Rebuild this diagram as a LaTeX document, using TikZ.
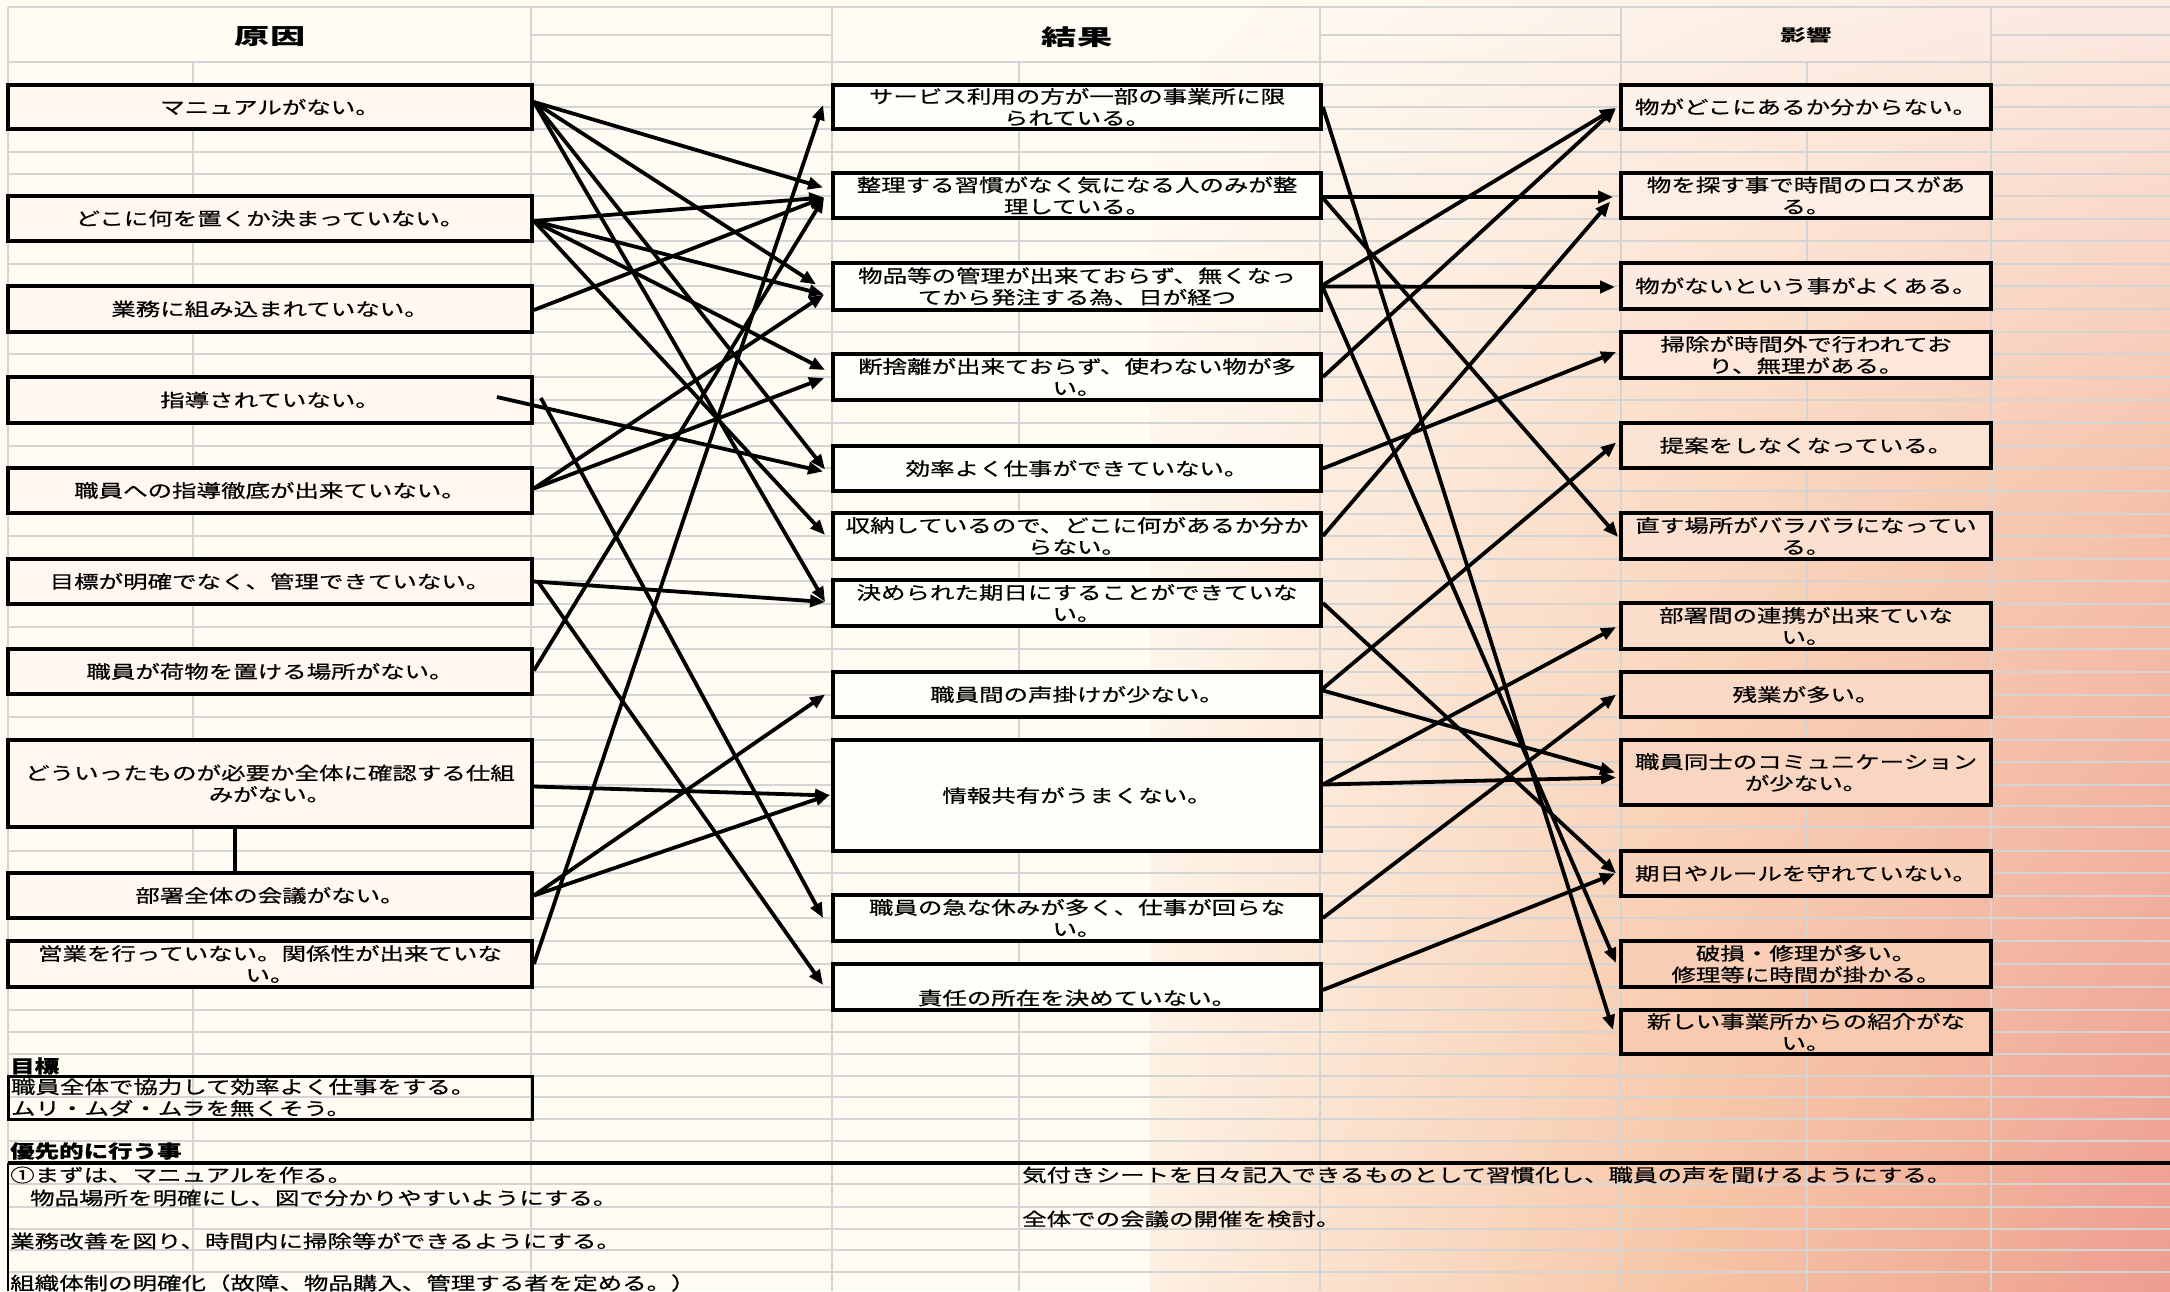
\documentclass[tikz,border=0pt]{standalone}
\usepackage{fontspec}
\newfontfamily\jp{Noto Sans CJK JP}[FakeStretch=1.36,FakeBold=0.6]
\newfontfamily\jph{Noto Sans CJK JP}[FakeStretch=1.6]
\newfontfamily\jpk{Noto Sans CJK JP}[FakeStretch=1.55]
\usetikzlibrary{arrows.meta,calc,shadings}
\definecolor{bgcream}{HTML}{FFFCF4}
\definecolor{bgmidl}{HTML}{FEF6EC}
\definecolor{bgcreamb}{HTML}{FDF0E2}
\definecolor{pka}{HTML}{FDF1E8}
\definecolor{pkm}{HTML}{FAD9C2}
\definecolor{pkb}{HTML}{F6C3A3}
\definecolor{pkc}{HTML}{FCE9E1}
\definecolor{pkn}{HTML}{F5C0A8}
\definecolor{pkd}{HTML}{EE9D8F}
\definecolor{gridgray}{HTML}{D4D4D4}
\definecolor{lfill}{HTML}{FFF7F0}
\definecolor{mfill}{HTML}{FFFEF9}
\definecolor{rtop}{HTML}{FDF2EA}
\definecolor{rbot}{HTML}{F8CBB1}
\begin{document}
\begin{tikzpicture}[x=1pt,y=-1pt,
  grid/.style={draw=gridgray, line width=2pt},
  box/.style={draw=black, line width=3.8pt, inner sep=0pt, align=center,
    font=\jp\fontsize{18}{21.5}\selectfont},
  lbox/.style={box, fill=lfill, minimum width=524pt},
  mbox/.style={box, fill=mfill, minimum width=488pt},
  rbox/.style={box, fill=rbot!#1!rtop, minimum width=370pt},
  link/.style={line width=3.8pt, -{Triangle[length=15pt,width=12pt]}},
  txt/.style={anchor=west, inner sep=0pt, font=\jp\fontsize{18}{21.5}\selectfont},
  btxt/.style={anchor=west, inner sep=0pt, font=\jp\bfseries\fontsize{18}{21.5}\selectfont}]
\useasboundingbox (0,0) rectangle (2170,1291);
% background
\fill[bgcream] (0,0) rectangle (2170,1291);
\shade[upper left=bgcream, upper right=pka, lower left=bgmidl, lower right=pkm] (1150,0) rectangle (1700,500);
\shade[upper left=bgmidl, upper right=pkm, lower left=bgcreamb, lower right=pkb] (1150,500) rectangle (1700,1291);
\shade[upper left=pka, upper right=pkc, lower left=pkm, lower right=pkn] (1700,0) rectangle (2170,500);
\shade[upper left=pkm, upper right=pkn, lower left=pkb, lower right=pkd] (1700,500) rectangle (2170,1291);
% grid
\draw[grid] (8,7) -- (2170,7);
\foreach \a/\b in {531/832,1320/1621,1991/2170} \draw[grid] (\a,35) -- (\b,35);
\foreach \yy in {62,85,107,129,152,174,196,219,241,264,286,309,332,354,377,400,423,446,468,491,514,536,559,581,604,627,649,672,695,717,740,762,785,806,827,851,873,896,918,941,964,987,1010,1032,1054,1076,1097,1119,1141,1163,1184,1207,1229,1250,1272}
  \draw[grid] (8,\yy) -- (2170,\yy);
\foreach \xx in {8,531,832,1320,1621,1991} \draw[grid] (\xx,7) -- (\xx,1291);
\foreach \xx in {193,1019,1807} \draw[grid] (\xx,62) -- (\xx,1291);
% headers
\node[font=\jph\bfseries\fontsize{22}{24}\selectfont] (h1) at (270,37) {原因};
\node[font=\jph\bfseries\fontsize{22}{24}\selectfont] (h2) at (1077,37) {結果};
\node[font=\jpk\bfseries\fontsize{16.5}{20}\selectfont] (h3) at (1806,35) {影響};
% left boxes
\node[lbox, minimum height=44pt] (s1) at (270,107) {マニュアルがない。};
\node[lbox, minimum height=45pt] (s2) at (270,218.5) {どこに何を置くか決まっていない。};
\node[lbox, minimum height=46pt] (s3) at (270,309) {業務に組み込まれていない。};
\node[lbox, minimum height=46pt] (s4) at (270,400) {指導されていない。};
\node[lbox, minimum height=45pt] (s5) at (270,490.5) {職員への指導徹底が出来ていない。};
\node[lbox, minimum height=45pt] (s6) at (270,581.5) {目標が明確でなく、管理できていない。};
\node[lbox, minimum height=45pt] (s7) at (270,671.5) {職員が荷物を置ける場所がない。};
\node[lbox, minimum height=87pt] (s8) at (270,783.5) {どういったものが必要か全体に確認する仕組\\みがない。};
\node[lbox, minimum height=45pt] (s9) at (270,895.5) {部署全体の会議がない。};
\node[lbox, minimum height=46pt] (s10) at (270,964) {営業を行っていない。関係性が出来ていな\\い。};
% middle boxes
\node[mbox, minimum height=44pt] (m1) at (1077,107) {サービス利用の方が一部の事業所に限\\られている。};
\node[mbox, minimum height=45pt] (m2) at (1077,195.5) {整理する習慣がなく気になる人のみが整\\理している。};
\node[mbox, minimum height=47pt] (m3) at (1077,286.5) {物品等の管理が出来ておらず、無くなっ\\てから発注する為、日が経つ};
\node[mbox, minimum height=46pt] (m4) at (1077,377) {断捨離が出来ておらず、使わない物が多\\い。};
\node[mbox, minimum height=45pt] (m5) at (1077,468.5) {効率よく仕事ができていない。};
\node[mbox, minimum height=46pt] (m6) at (1077,536) {収納しているので、どこに何があるか分か\\らない。};
\node[mbox, minimum height=46pt] (m7) at (1077,603) {決められた期日にすることができていな\\い。};
\node[mbox, minimum height=45pt] (m8) at (1077,694.5) {職員間の声掛けが少ない。};
\node[mbox, minimum height=111pt] (m9) at (1077,795.5) {情報共有がうまくない。};
\node[mbox, minimum height=46pt] (m10) at (1077,918) {職員の急な休みが多く、仕事が回らな\\い。};
\node[mbox, minimum height=46pt] (m11) at (1077,987) {\raisebox{-11pt}[0.88em][0.12em]{責任の所在を決めていない。}};
% right boxes
\node[rbox=0, minimum height=44pt] (r1) at (1806,107) {物がどこにあるか分からない。};
\node[rbox=10, minimum height=45pt] (r2) at (1806,195.5) {物を探す事で時間のロスがあ\\る。};
\node[rbox=20, minimum height=46pt] (r3) at (1806,286) {物がないという事がよくある。};
\node[rbox=28, minimum height=46pt] (r4) at (1806,355) {掃除が時間外で行われてお\\り、無理がある。};
\node[rbox=38, minimum height=45pt] (r5) at (1806,445.5) {提案をしなくなっている。};
\node[rbox=47, minimum height=46pt] (r6) at (1806,536) {直す場所がバラバラになってい\\る。};
\node[rbox=56, minimum height=46pt] (r7) at (1806,626) {部署間の連携が出来ていな\\い。};
\node[rbox=64, minimum height=45pt] (r8) at (1806,694.5) {残業が多い。};
\node[rbox=72, minimum height=65pt] (r9) at (1806,772.5) {職員同士のコミュニケーション\\が少ない。};
\node[rbox=82, minimum height=45pt] (r10) at (1806,873.5) {期日やルールを守れていない。};
\node[rbox=92, minimum height=46pt] (r11) at (1806,964) {破損・修理が多い。\\修理等に時間が掛かる。};
\node[rbox=100, minimum height=44pt] (r12) at (1806,1032) {新しい事業所からの紹介がな\\い。};
% connector between s8 and s9
\draw[line width=3.8pt] ($(s8.south)+(-35,0)$) -- ($(s9.north)+(-35,0)$);
% left -> middle
\draw[link] ($(s1.east)+(0,-5)$) -- ($(m2.west)+(-8,-8)$);
\draw[link] ($(s1.east)+(0,-5)$) -- ($(m3.west)+(-15,-2)$);
\draw[link] ($(s1.east)+(0,-5)$) -- ($(m5.west)+(-6,1)$);
\draw[link] ($(s1.east)+(0,-5)$) -- ($(m7.west)+(-6,-1)$);
\draw[link] ($(s2.east)+(0,2.5)$) -- ($(m2.west)+(-7,2)$);
\draw[link] ($(s2.east)+(0,2.5)$) -- ($(m3.west)+(-7,8)$);
\draw[link] ($(s2.east)+(0,2.5)$) -- ($(m4.west)+(-6,-7)$);
\draw[link] ($(s2.east)+(0,2.5)$) -- ($(m6.west)+(-6,-1)$);
\draw[link] ($(s3.east)+(0,1)$) -- ($(m2.west)+(-7,2)$);
\draw[link] ($(s4.east)+(-37,-3)$) -- ($(m5.west)+(-8,3)$);
\draw[link] ($(s4.east)+(7,-2)$) -- ($(m10.west)+(-8,0)$);
\draw[link] ($(s5.east)+(0,-2)$) -- ($(m3.west)+(-7,8)$);
\draw[link] ($(s5.east)+(0,-2)$) -- ($(m4.west)+(-7,1)$);
\draw[link] (s6.east) -- ($(m7.west)+(-6,-1)$);
\draw[link] ($(s6.east)+(4,0)$) -- ($(m11.west)+(-8,-2)$);
\draw[link] ($(s7.east)+(0,-1)$) -- ($(m2.west)+(-7,2)$);
\draw[link] ($(s8.east)+(0,3)$) -- ($(m9.west)+(-1,0)$);
\draw[link] (s9.east) -- ($(m8.west)+(-6,0)$);
\draw[link] (s9.east) -- ($(m9.west)+(-1,-1)$);
\draw[link] (s10.east) -- ($(m1.west)+(-8,-2)$);
% middle -> right
\draw[link] (m1.east) -- ($(r12.west)+(-6,-2)$);
\draw[link] ($(m2.east)+(0,1.5)$) -- ($(r2.west)+(-6,1.5)$);
\draw[link] ($(m2.east)+(0,2.5)$) -- ($(r6.west)+(-1,1)$);
\draw[link] ($(m3.east)+(0,-1.5)$) -- ($(r1.west)+(-4,1)$);
\draw[link] (m3.east) -- ($(r3.west)+(-4,1)$);
\draw[link] ($(m3.east)+(0,1)$) -- ($(r11.west)+(-3,-1)$);
\draw[link] (m4.east) -- ($(r1.west)+(-3,1)$);
\draw[link] (m5.east) -- ($(r4.west)+(-3,-3)$);
\draw[link] (m6.east) -- ($(r2.west)+(-9,6)$);
\draw[link] (m7.east) -- ($(r10.west)+(-3,0)$);
\draw[link] ($(m8.east)+(0,-6)$) -- ($(r5.west)+(-3,-3)$);
\draw[link] ($(m8.east)+(0,-4)$) -- ($(r9.west)+(-4,0)$);
\draw[link] ($(m9.east)+(0,-11)$) -- ($(r7.west)+(-3,1)$);
\draw[link] ($(m9.east)+(0,-11)$) -- ($(r9.west)+(-3,5)$);
\draw[link] (m10.east) -- ($(r8.west)+(-3,0)$);
\draw[link] ($(m11.east)+(0,3)$) -- ($(r10.west)+(-4,0)$);
% bottom section
\node[btxt] (goalt) at (10,1066) {目標};
\node[draw=black, line width=3pt, minimum width=524pt, minimum height=43pt, inner sep=2pt,
  align=left, text width=518pt, font=\jp\fontsize{18}{21.5}\selectfont] (goal) at (270,1097.5)
  {職員全体で協力して効率よく仕事をする。\\ムリ・ムダ・ムラを無くそう。};
\node[btxt] (prio) at (10,1151) {優先的に行う事};
\draw[line width=3.5pt] (8,1163) -- (2170,1163);
\draw[line width=2.5pt] (8,1163) -- (8,1291);
\node[txt] (p1) at (10,1175) {①まずは、マニュアルを作る。};
\node[txt] (p2) at (30,1198) {物品場所を明確にし、図で分かりやすいようにする。};
\node[txt] (p3) at (10,1241) {業務改善を図り、時間内に掃除等ができるようにする。};
\node[txt] (p4) at (10,1283) {組織体制の明確化（故障、物品購入、管理する者を定める。）};
\node[txt] (p5) at (1022,1175) {気付きシートを日々記入できるものとして習慣化し、職員の声を聞けるようにする。};
\node[txt] (p6) at (1022,1219) {全体での会議の開催を検討。};
\end{tikzpicture}
\end{document}
